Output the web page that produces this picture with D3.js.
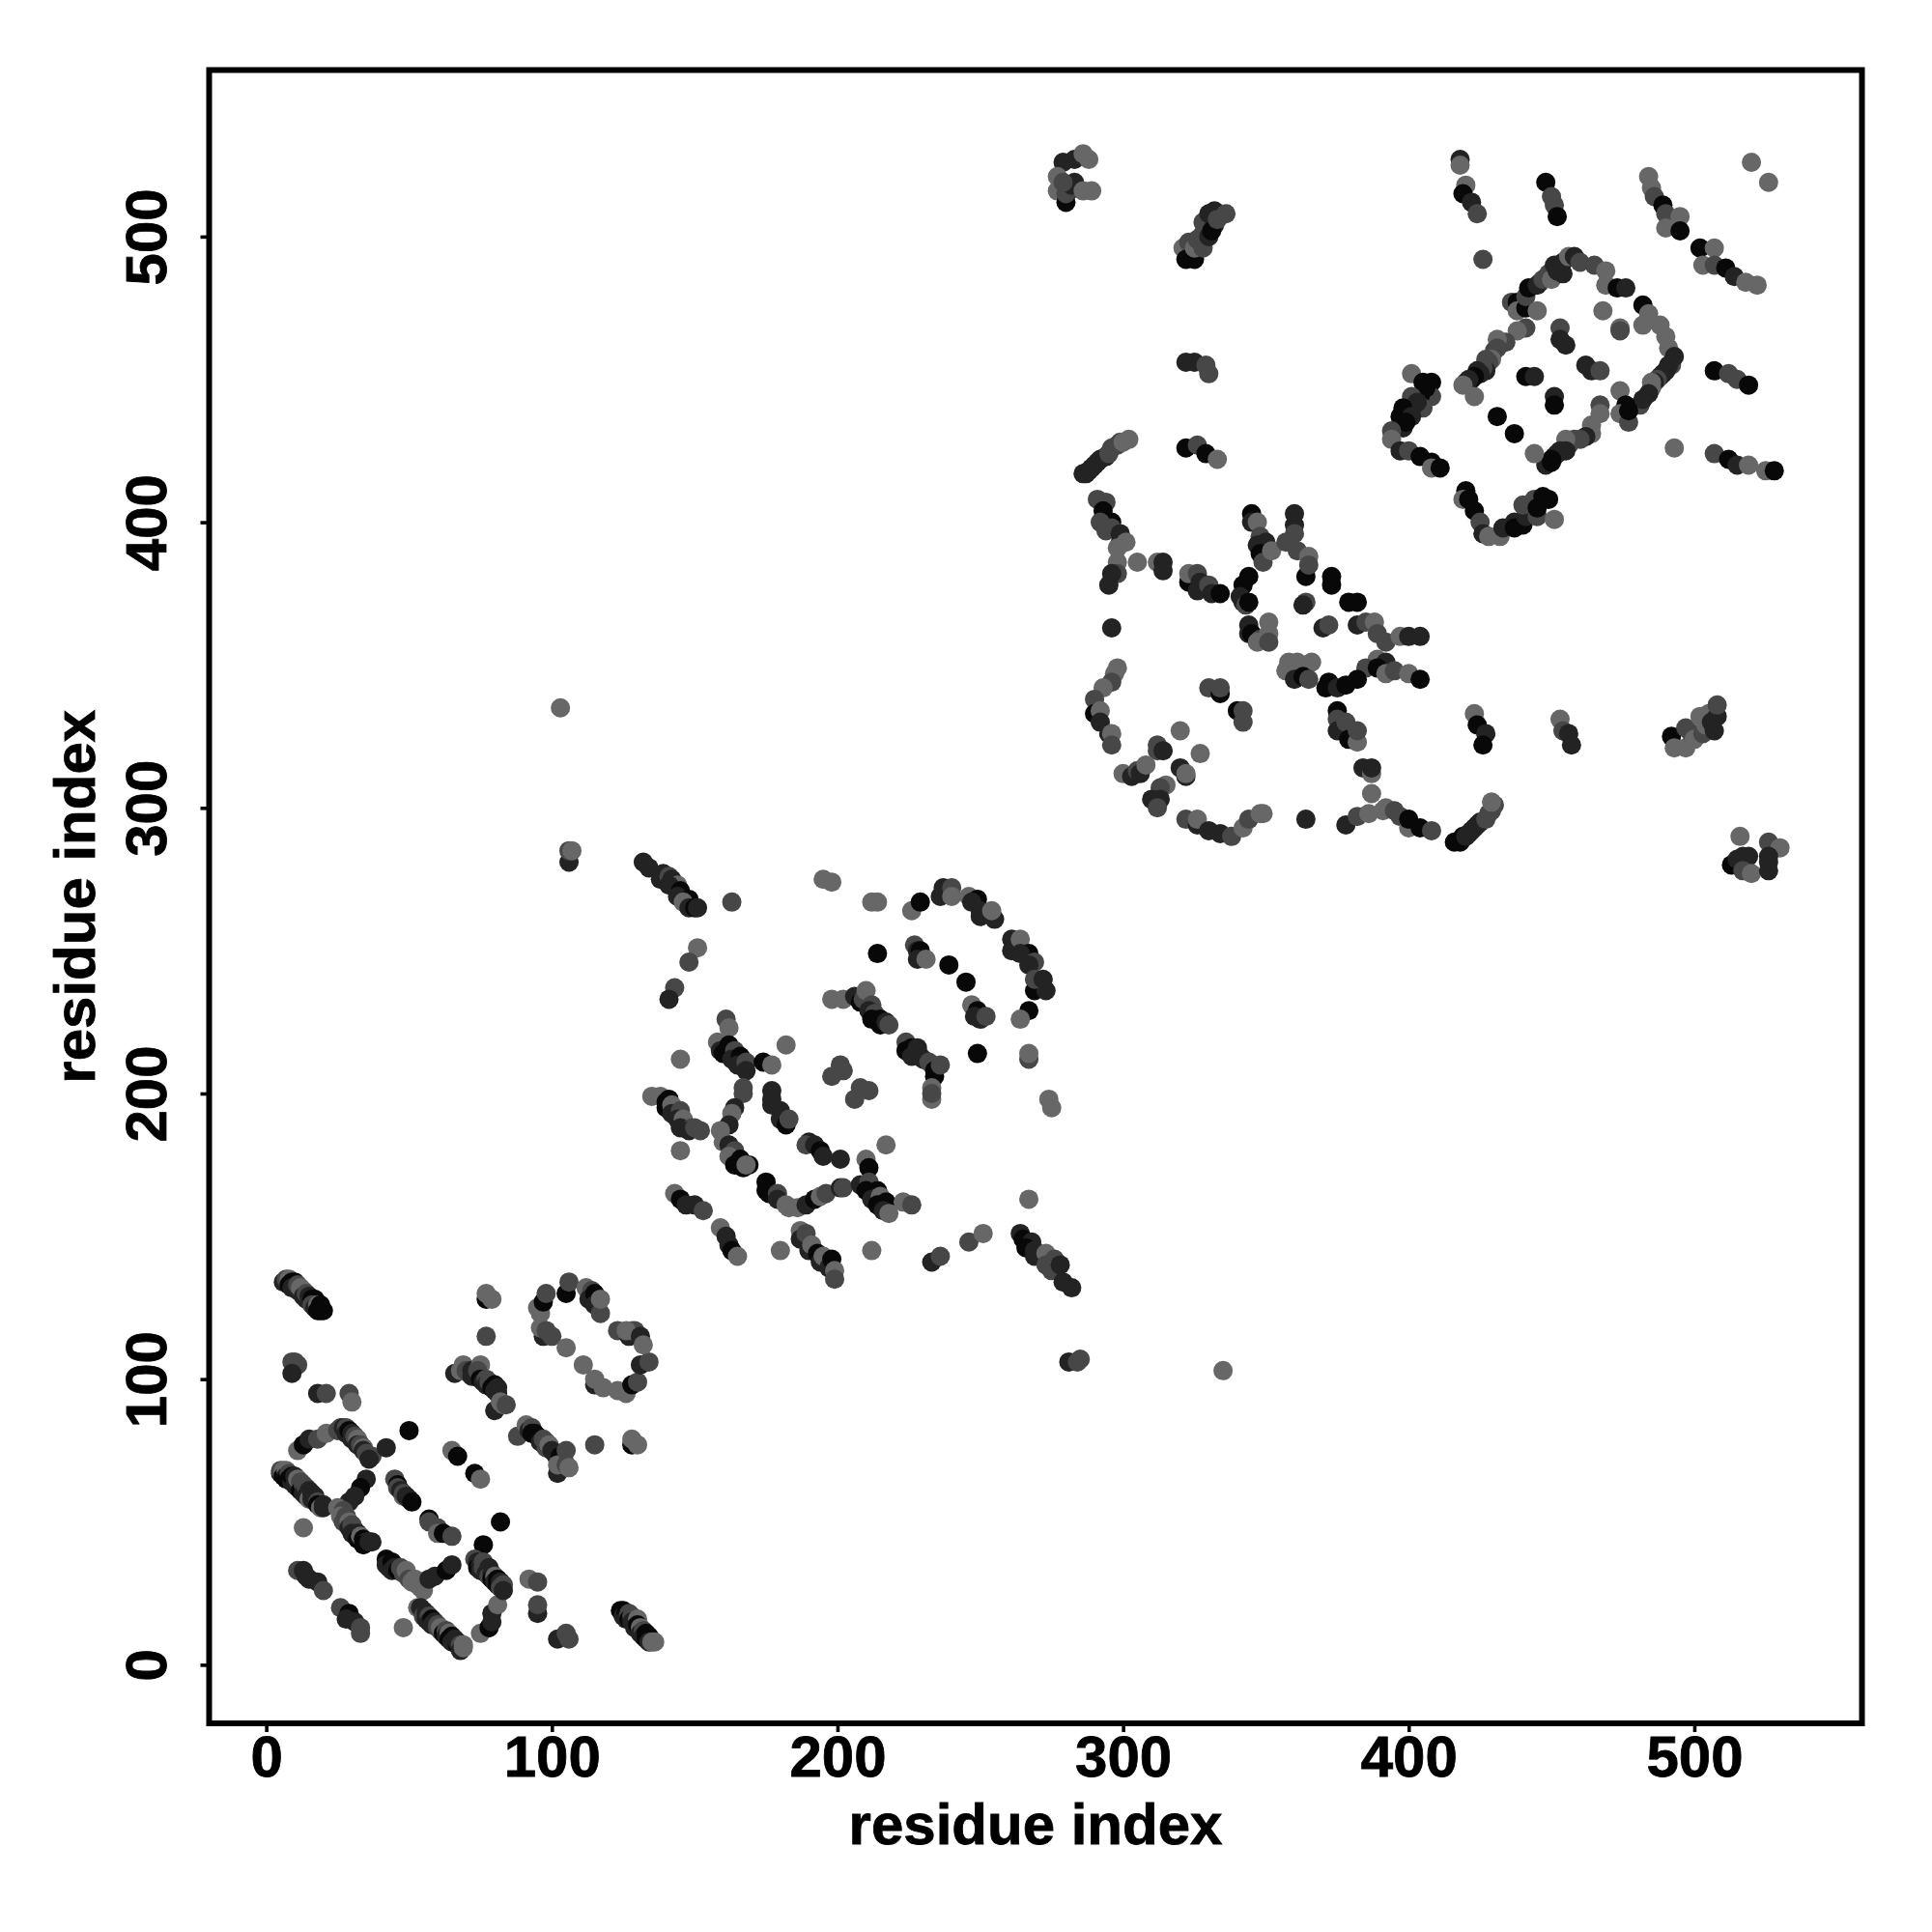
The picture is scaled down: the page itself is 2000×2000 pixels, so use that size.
<!DOCTYPE html>
<html><head><meta charset="utf-8">
<script src="https://cdn.jsdelivr.net/npm/d3@7/dist/d3.min.js"></script>
<style>html,body{margin:0;padding:0;background:#fff}svg{display:block}</style>
</head><body>
<svg id="chart" width="2000" height="2000"></svg>
<script>
// each contact: [residue i, residue j, shade level]
const blockA = [[6,134,1],[7,135,2],[8,135,3],[8,133,0],[9,134,0],[10,134,0],[9,132,1],[10,132,1],[11,131,1],[11,133,2],[12,132,3],[13,131,3],[13,129,1],[14,128,1],[14,130,2],[15,129,1],[16,128,0],[17,128,0],[16,126,2],[17,125,1],[18,126,3],[18,124,0],[19,126,0],[19,125,0],[19,124,0],[20,124,0],
[9,106,2],[11,105,2],[10,106,2],[9,102,1],[18,95,1],[21,95,2],[29,95,2],[30,92,3],[11,75,3],[13,77,0],[15,79,1],[18,79,2],[21,81,3],
[25,82,2],[26,83,2],[27,83,1],[28,83,2],[28,81,1],[29,82,0],[30,81,1],[30,79,1],[31,80,2],[32,79,3],[32,77,1],[33,77,2],[34,76,3],[34,75,1],[35,74,2],[36,73,2],[37,73,2],[36,72,1],
[42,76,1],[50,82,0],[65,75,3],[67,73,0],[73,67,0],[75,65,3],[82,50,0],[76,42,0],[13,48,3],
[5,67,1],[5,68,2],[6,68,3],[6,66,0],[7,68,3],[7,66,1],[7,65,0],[8,67,2],[8,65,0],[9,64,1],[9,66,0],[10,66,1],[10,63,1],[11,62,1],[11,65,3],[12,64,2],[12,61,0],[13,63,2],[13,60,1],[14,62,2],[14,59,1],[15,61,1],[15,58,3],[16,60,1],[16,58,1],[17,59,1],[18,57,2],[18,56,0],[19,55,3],[20,55,1],[20,56,1],
[35,65,1],[33,62,0],[31,59,1],[29,57,1],
[25,55,3],[27,54,2],[26,52,3],[28,52,2],[27,50,2],[29,50,3],[29,48,1],[30,49,2],[31,47,2],[30,46,1],[32,46,1],[32,44,0],[33,45,3],[34,44,0],[35,43,1],[34,42,0],[36,43,1],[37,43,1],
[45,65,2],[46,63,0],[46,62,2],[47,61,1],[48,59,3],[48,60,2],[49,59,1],[50,58,1],[51,57,0],
[57,51,0],[57,50,2],[60,48,2],[60,46,3],[62,46,0],[65,45,2],
[42,37,0],[42,35,1],[43,34,1],[44,36,0],[44,33,1],[45,34,1],[46,33,0],[47,34,2],[48,32,2],[49,33,3],[50,30,2],[51,29,3],[52,30,3],[53,28,3],[54,27,3],[55,26,3],
[57,30,1],[59,31,1],[63,33,0],[65,35,1],
[11,33,2],[13,33,1],[15,30,1],[14,31,1],[18,29,1],[20,26,2],[26,20,2],[29,18,0],[28,16,1],[31,15,1],[33,13,2],[33,11,2],[48,13,3],
[53,20,3],[54,20,1],[55,19,1],[55,17,2],[56,18,1],[56,16,1],[57,17,2],[57,15,1],[58,16,0],[58,14,1],[59,15,1],[60,13,2],[60,14,2],[61,12,2],[61,13,3],[62,11,0],[63,12,2],[63,10,1],[64,11,3],[64,9,0],[65,10,0],[65,8,1],[66,9,1],[67,7,0],[67,8,1],[68,7,2],[68,5,1],[69,6,3],[69,7,3],
[75,11,3],[78,13,0],[79,15,1],[79,18,1],[81,21,3],
[73,37,2],[74,36,1],[74,34,0],[75,35,1],[75,33,1],[76,36,2],[76,34,2],[77,33,2],[77,32,1],[78,34,1],[78,31,2],[79,32,1],[79,30,0],[80,31,3],[80,29,1],[81,30,0],[81,28,0],[82,29,1],[82,27,2],[83,28,2],[83,26,1],
[92,30,3],[95,29,2],[95,18,1],[95,21,2],[102,9,1],[105,11,2],[106,9,2],
[124,19,0],[125,19,0],[125,17,1],[126,18,0],[126,16,1],[127,18,2],[127,16,0],[128,17,2],[128,15,1],[129,15,1],[130,16,3],[129,13,1],[130,14,0],[131,13,3],[131,11,1],[132,12,2],[132,10,1],[133,11,0],[133,9,0],[134,10,0],[134,8,1],[135,8,3],[136,8,3]];

const blockAOuter = [[77,128,0],[77,130,3],[79,128,3],[77,115,2],
[66,102,1],[69,105,3],[68,103,3],[70,103,2],[71,102,2],[72,103,1],[72,101,1],[73,101,1],[75,105,3],[74,103,2],[80,89,1],[75,100,0],[76,99,1],[77,100,2],[77,98,1],[78,99,2],[79,97,0],[80,98,0],[80,96,1],[81,95,1],[81,97,1],[82,92,3],[83,91,3],[84,91,2],
[88,80,2],[91,84,3],[92,82,1],[93,83,2],[93,81,0],[94,81,0],[95,80,0],[96,78,1],[97,79,2],[98,78,2],[98,76,2],[99,77,3],[100,75,1],[101,74,1],[102,67,1],[102,72,1],[103,73,0],[104,72,0],[102,70,3],[105,70,2],[105,75,2],[106,69,3],
[115,77,2],[128,77,0],[128,79,3],[130,77,3],
[95,125,3],[96,123,3],[97,127,0],[98,130,2],[105,130,0],[106,134,2],[97,115,1],[96,118,3],[98,117,2],[100,115,2],[105,111,3],[111,105,3],[115,98,1],[115,100,3],[118,97,3],[123,96,3],[126,95,3],[128,98,0],[130,99,2],[131,105,1],[134,106,2],
[123,117,2],[127,115,1],[128,117,3],[129,117,2],[126,117,3],[131,115,1],[132,112,3],
[112,132,3],[114,131,2],[113,128,1],[115,130,0],[115,126,1],[117,123,2],[117,128,3]];

const blockB = [[143,237,2],[141,233,1],[151,251,3],[148,246,2],[163,267,2],
[132,281,1],[134,279,1],[139,277,1],[138,275,1],[141,276,2],[142,275,1],[144,273,3],[141,273,1],[145,271,0],[144,269,1],[148,268,0],[146,267,3],[148,265,1],[150,265,0],[151,265,1],
[195,275,3],[198,274,3],[212,267,3],[214,267,3],[226,264,3],[229,267,0],
[237,272,1],[236,269,1],[240,272,2],[240,269,3],[246,269,3],[249,268,0],[247,267,1],[250,264,1],[250,262,1],[255,261,1],[254,264,3],
[261,254,1],[261,250,1],[264,254,3],[267,249,0],[264,249,1],[269,246,2],[267,245,1],[269,236,0],[273,236,1],[269,240,2],[272,240,1],
[267,229,0],[264,226,3],[267,212,2],[267,214,3],[274,198,3],[275,195,3],[214,249,0],
[227,252,2],[228,250,1],[229,250,0],[228,247,1],[231,247,3],[239,245,0],[245,239,0],
[247,231,3],[249,229,0],[248,227,1],[250,226,1],[252,227,2],[249,214,0],
[198,233,3],[202,233,3],[206,234,1],[208,232,0],[209,233,2],[210,236,3],[212,231,2],[211,229,1],[213,228,2],[212,226,0],[215,226,0],[215,224,0],[217,225,1],[218,224,2],
[224,218,2],[224,215,0],[226,216,0],[228,216,1],[226,213,1],[230,212,1],[229,213,1],[232,211,2],[234,208,0],[234,206,0],[236,210,2],[233,198,3],[233,202,3],[233,200,2],
[201,210,2],[202,208,2],[198,206,2],[208,202,2],[211,201,2],[206,198,2]];

const blockBInner = [[161,226,2],[162,223,3],[182,217,3],[145,212,3],[145,180,3],
[158,218,3],[159,215,1],[162,217,0],[160,214,0],[164,215,2],[163,212,1],[166,213,0],[165,210,1],[168,211,2],[168,208,1],[174,211,0],[177,210,3],
[167,200,2],[167,202,2],[164,195,1],[163,193,3],[162,189,1],[159,187,3],
[160,183,3],[162,182,1],[164,180,2],[162,178,3],[166,177,0],[164,175,0],[169,175,0],[167,174,0],[168,175,3],
[177,201,1],[177,198,1],[177,196,1],[180,194,1],[180,191,1],[182,189,0],[183,191,2],
[190,183,1],[189,182,2],[192,182,1],[194,180,0],[195,178,1],[201,177,1],[210,177,3],[211,174,0],[217,182,3],
[135,199,3],[138,199,3],[140,197,0],[141,198,0],[140,195,0],[142,196,3],[142,193,1],[145,194,2],[144,191,1],[146,191,3],[145,188,1],[149,188,2],[148,187,1],[150,188,2],[152,187,2],
[175,169,0],[175,166,0],[176,165,0],[179,165,2],[179,163,1],[182,161,3],[183,160,3],[186,160,3],[189,161,1],[192,163,0],[194,164,3],[196,165,2],[201,167,1],[202,167,2],
[208,168,1],[211,169,2],[210,166,0],[214,166,0],[212,163,1],[215,164,3],[214,161,0],[217,162,0],[216,159,1],[218,158,3],[223,162,3],[226,161,2],
[143,165,3],[145,163,0],[147,161,1],[150,161,1],[153,159,2],[159,153,3],[161,150,1],[162,147,1],[163,145,0],[165,143,3],[180,145,3],
[187,152,3],[187,149,1],[189,151,2],[190,145,1],[191,147,3],[193,144,0],[194,141,1],[195,143,3],[197,139,1],[198,142,0],[199,138,3],[199,135,2],
[212,145,3],[233,141,1],[236,143,2],[246,148,2],[251,151,3],[267,163,3],
[264,151,1],[265,149,0],[268,148,1],[266,146,0],[269,145,1],[269,143,1],[273,144,3],[273,140,2],[276,142,2],[275,138,2],[278,140,1],[279,134,1],[282,132,1],
[281,106,1],[285,107,2],[284,106,2],[335,103,3],[103,335,3],[106,281,1],[106,285,2],[107,285,3]];

const blockTopLeft = [[279,526,1],[283,527,1],[286,529,3],[288,527,3],[277,521,3],[277,516,3],[283,519,1],[281,516,1],[280,512,0],[280,515,2],[282,518,1],[279,519,2],[286,516,3],[289,516,3],
[321,496,3],[323,498,2],[322,492,0],[325,492,0],[325,496,3],[326,499,2],[328,496,2],[328,501,2],[328,505,2],[330,500,1],[332,509,1],[330,508,1],[332,504,1],[331,502,0],[333,506,2],[336,508,2],
[322,456,1],[325,456,1],[329,455,2],[330,452,2],[322,426,0],[326,427,2],[329,424,0],[333,422,3],
[286,417,1],[287,417,1],[288,418,1],[289,419,1],[290,420,1],[291,421,1],[292,422,1],[294,423,1],[295,424,2],[296,426,2],[298,427,2],[299,428,2],[300,428,3],[302,429,3]];

const blockMiddle = [[291,408,2],[294,407,2],[293,404,0],[296,400,0],[292,400,2],[294,397,2],[296,398,2],[299,396,1],[299,393,1],[301,393,3],[298,391,3],
[298,386,3],[298,382,2],[296,382,1],[295,378,1],[305,386,3],[312,386,3],[314,386,1],[314,383,1],
[323,379,0],[323,382,3],[326,382,2],[327,379,1],[326,376,1],[330,378,2],[331,375,1],[334,375,0],[296,363,1],
[345,403,0],[345,400,1],[347,400,3],[348,395,2],[347,392,1],[350,393,1],[348,389,0],[349,386,2],[352,390,3],
[360,403,1],[360,399,1],[360,396,2],[357,393,2],[361,390,2],[365,388,3],[364,381,0],[365,385,2],
[373,381,0],[373,378,0],[344,381,0],[342,378,0],[341,374,1],[342,372,1],[343,371,2],[344,372,0],
[364,372,2],[363,371,1],[379,372,0],[382,372,0],[370,363,1],[372,364,2],
[344,364,1],[344,361,1],[345,361,0],[348,359,2],[347,358,3],[351,365,3],[351,361,3],[351,358,2],
[382,364,1],[385,365,2],[388,365,3],[389,361,2],[392,358,2],[397,360,3],[400,360,1],[404,360,1],
[389,352,3],[385,349,2],[392,351,1],[389,349,0],[392,347,3],[395,348,2],[400,347,3],[404,345,0],
[358,351,3],[361,351,3],[366,351,3],[357,348,3],[360,345,1],[363,346,0],[365,345,2],
[372,344,0],[371,342,0],[375,342,1],[378,343,0],[382,345,0],
[375,334,0],[375,331,2],[375,327,1],[378,330,2],[379,324,0],[382,323,3],[382,327,2],
[330,342,2],[334,340,0],[334,342,2],[340,334,0],[342,334,2],[342,330,2],
[298,349,3],[297,347,3],[296,344,2],[293,342,3],[290,338,2],[290,333,0],[292,334,3],[292,330,1],[295,326,1],[296,326,3],[296,322,2],
[320,327,3],[327,319,3],[312,322,2],[312,320,2],[314,320,1],
[300,312,3],[303,311,1],[305,313,2],[306,312,1],[308,315,3],[320,314,1],[322,311,1],[322,312,3],
[315,308,3],[313,307,2],[310,303,1],[313,303,1],[312,300,2],
[322,296,2],[326,294,1],[326,296,3],[330,292,1],[334,291,1],[338,290,2],[342,293,3],[344,296,2],[348,298,3],[349,298,3],
[364,296,1],[378,294,1],[382,297,2],[386,298,3],[387,305,3],[384,314,1],[387,312,3],[387,314,1],
[392,300,3],[391,299,3],[395,299,2],[397,297,2],[400,293,3],[400,296,0],[404,293,0],[408,292,2],
[416,288,0],[418,288,0],[419,290,0],[420,290,1],[421,291,1],[422,292,1],[423,293,1],[424,294,1],[425,295,1],[427,296,2],[428,298,2],[429,299,2],[430,301,2],[429,302,3],
[423,333,3],[424,329,0],[427,326,1],[426,322,0]];

const blockRightEdge = [[453,331,3],[454,327,2],[456,326,1],[457,322,1],
[492,325,0],[493,321,3],[497,321,3],[497,328,2],[499,326,2],[500,324,3],[502,332,3],[503,326,2],[504,329,3],[505,333,3],[506,330,1],[508,332,1],[507,327,1],[508,336,2],
[516,290,3],[513,280,0],[515,282,1],[517,283,1],[519,283,1],[517,278,2],[520,277,3],[526,288,2],[530,286,3],[526,283,1],[526,281,1],[526,278,1],
[418,527,1],[418,525,3],[420,518,3],[419,515,0],[422,512,1],[424,508,2],
[448,519,0],[450,514,2],[451,511,2],[452,507,0],
[484,521,3],[485,517,3],[486,514,2],[489,511,0],[490,508,2],[490,503,3],[495,507,3],[495,502,0],[520,526,3],[526,519,3],
[502,496,0],[507,496,3],[503,490,3],[507,490,2],[511,489,0],[514,486,1],[518,484,3],[522,483,3],
[507,453,0],[512,452,2],[515,450,2],[519,448,0],
[493,426,3],[507,424,2],[512,422,0],[515,420,1],[519,420,3],[525,418,3],[528,418,0]];

const blockRect = [[426,492,2],[436,477,2],[438,477,0],[438,474,3],[441,475,0],[441,479,2],[442,482,0],[445,474,3],[446,484,3],[445,483,1],[447,485,2],[449,487,2],[450,485,3],[451,490,1],[452,488,1],[454,491,1],[454,487,1],[456,493,3],[458,493,1],[460,491,2],[465,490,2],[469,488,3],[469,483,3],[473,482,0],[476,482,1],
[482,476,0],[484,473,3],[482,469,3],[488,469,3],[490,465,3],[491,461,3],[492,455,2],[493,458,1],
[491,455,1],[490,453,1],[489,452,1],[488,451,1],[487,450,2],[486,449,1],[485,449,3],[485,447,3],[484,445,1],[481,441,2],[482,443,1],
[474,446,3],[476,441,0],[474,438,3],[477,435,2],[477,439,0],[467,441,2],[467,438,3],[464,434,3],[464,431,3],
[462,430,1],[460,429,2],[458,429,2],[456,427,2],[455,429,3],[455,425,1],[453,425,1],[452,424,1],[451,423,1],[450,422,0],[449,421,0],[448,420,1],[450,421,0],[444,424,3],
[441,468,2],[438,467,3],[434,463,2],[431,464,3],[431,461,2],[430,460,2],[429,457,3],[428,456,2],[427,457,2],[427,453,1],[426,454,2],[425,452,1],[424,453,1],[423,451,0],[422,450,0],[421,450,1],[420,449,1],[419,448,3],[423,444,3],
[453,468,2],[453,464,1],[455,462,1],[468,474,3],[474,468,3],[474,467,2],[462,455,1],[464,453,1],[467,453,2],[441,451,0],[444,451,1],[451,444,1],[451,441,0],[431,437,0],[437,431,0],
[401,452,3],[405,449,0],[408,449,0],[408,444,2],[404,444,0],[406,447,0],[401,444,2],[405,440,2],[403,442,1],[401,440,1],[398,440,0],[397,437,0],[401,437,1],[398,433,1],[399,435,0],[394,432,2],[394,429,3],[397,425,1],[400,425,2],[404,423,0],[408,421,0],[408,419,3],[411,419,0],
[420,411,0],[419,408,3],[421,408,0],[423,404,0],[425,400,2],[426,396,1],[428,395,3],[432,395,3],[433,398,1],[437,400,1],[437,398,0],[440,399,0],[441,402,1],[440,406,2],[444,408,2],[445,402,2],[445,405,0],[447,409,0],[449,408,0],[451,401,3]];

const shadeLevels = [0,1,2,3];
const shadeColors = ["#080808","#232323","#474747","#676767"];
const xTickValues = [0,100,200,300,400,500];
const yTickValues = [0,100,200,300,400,500];
const axisTitle = "residue index";

const contacts = [...blockA,...blockAOuter,...blockB,...blockBInner,...blockTopLeft,...blockMiddle,...blockRightEdge,...blockRect];

const box = {left:216.5,right:1927.5,top:72.5,bottom:1784};
const x = d3.scaleLinear().domain([-20,558.7]).range([box.left,box.right]);
const y = d3.scaleLinear().domain([-20.5,558.3]).range([box.bottom,box.top]);
const shade = d3.scaleOrdinal().domain(shadeLevels).range(shadeColors);
const svg = d3.select("#chart");
const font = "'Liberation Sans', Arial, sans-serif";

svg.append("g").selectAll("circle").data(contacts).join("circle")
  .attr("cx",d=>x(d[0])).attr("cy",d=>y(d[1])).attr("r",10)
  .attr("fill",d=>shade(d[2]));

const gx = svg.append("g").attr("transform",`translate(0,${box.bottom})`)
  .call(d3.axisBottom(x).tickValues(xTickValues).tickFormat(d3.format("d")).tickSize(9).tickPadding(3.4));
const gy = svg.append("g").attr("transform",`translate(${box.left},0)`)
  .call(d3.axisLeft(y).tickValues(yTickValues).tickFormat(d3.format("d")).tickSize(9).tickPadding(3));
for (const g of [gx,gy]) {
  g.select(".domain").remove();
  g.selectAll("line").attr("stroke","#000").attr("stroke-width",3.6);
  g.selectAll("text").attr("font-family",font).attr("font-weight","bold").attr("font-size",60).attr("fill","#000")
    .attr("stroke","#000").attr("stroke-width",0.8);
}
gy.selectAll("text").attr("text-anchor","middle").attr("dy",0).attr("x",0).attr("y",0)
  .attr("transform","translate(-45,0) rotate(-90)");

svg.append("rect").attr("x",box.left).attr("y",box.top).attr("width",box.right-box.left).attr("height",box.bottom-box.top)
  .attr("fill","none").attr("stroke","#000").attr("stroke-width",6);

svg.append("text").attr("x",(box.left+box.right)/2).attr("y",1909).attr("text-anchor","middle")
  .attr("font-family",font).attr("font-weight","bold").attr("font-size",60).attr("stroke","#000").attr("stroke-width",0.8).text(axisTitle);
svg.append("text").attr("transform",`translate(98,${(box.top+box.bottom)/2}) rotate(-90)`).attr("text-anchor","middle")
  .attr("font-family",font).attr("font-weight","bold").attr("font-size",60).attr("stroke","#000").attr("stroke-width",0.8).text(axisTitle);
</script>
</body></html>
